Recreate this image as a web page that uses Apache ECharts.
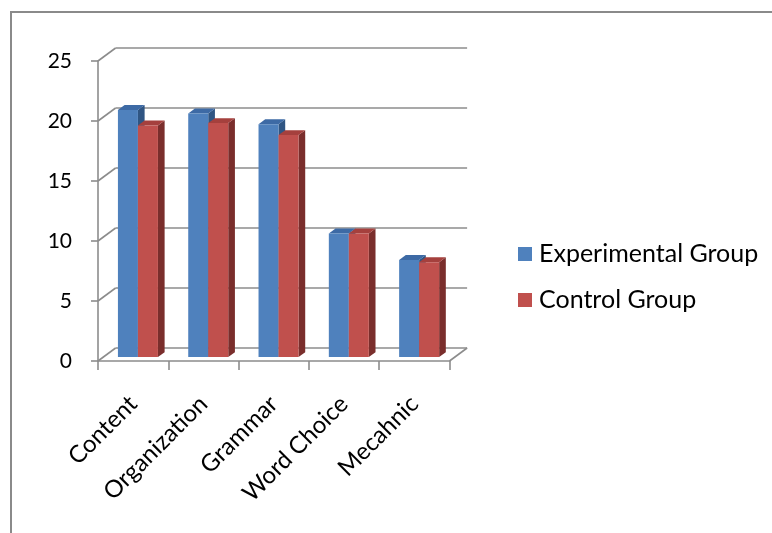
<!DOCTYPE html>
<html>
<head>
<meta charset="utf-8">
<script src="https://cdn.jsdelivr.net/npm/echarts@6/dist/echarts.min.js"></script>
<style>
  html, body { margin: 0; padding: 0; background: #ffffff; }
  #chart { width: 772px; height: 533px; }
</style>
</head>
<body>
<div id="chart"></div>
<script>
// Writing rubric scores per category, two groups
const categories = ['Content', 'Organization', 'Grammar', 'Word Choice', 'Mecahnic'];
const experimentalGroup = [20.6, 20.3, 19.4, 10.3, 8.1];
const controlGroup = [19.3, 19.5, 18.5, 10.3, 7.9];
const valueTicks = [0, 5, 10, 15, 20, 25];
const seriesNames = ['Experimental Group', 'Control Group'];

// Pseudo-3D projection: full depth of the plot box and where the bars sit in it
const DEPTH_X = 17.6;
const DEPTH_Y = -13;
const BAR_FRONT = 0.3;   // fraction of depth where bar front faces sit
const BAR_DEPTH = 0.38;  // bar thickness as a fraction of depth
const BAR_WIDTH = 20;
const GRID_COLOR = '#8c8c8c';
const FONT = 'Lato, "Liberation Sans", sans-serif';

const faces = [
  { front: '#4F81BD', top: '#3D6AA5', side: '#2F5583' },
  { front: '#C0504D', top: '#A5403D', side: '#7A2E2C' }
];

function barRenderer(slot) {
  const c = faces[slot];
  return function (params, api) {
    const cat = api.value(0);
    const top = api.coord([cat, api.value(1)]);
    const base = api.coord([cat, 0]);
    const sx = DEPTH_X * BAR_FRONT, sy = DEPTH_Y * BAR_FRONT;
    const dx = DEPTH_X * BAR_DEPTH, dy = DEPTH_Y * BAR_DEPTH;
    const x0 = top[0] - 20.5 + slot * BAR_WIDTH + sx;
    const x1 = x0 + BAR_WIDTH;
    const ty = top[1] + sy;
    const by = base[1] + sy;
    return {
      type: 'group',
      children: [
        {
          type: 'polygon',
          shape: { points: [[x1, ty], [x1 + dx, ty + dy], [x1 + dx, by + dy], [x1, by]] },
          style: { fill: c.side }
        },
        {
          type: 'polygon',
          shape: { points: [[x0, ty], [x1, ty], [x1 + dx, ty + dy], [x0 + dx, ty + dy]] },
          style: { fill: c.top }
        },
        {
          type: 'rect',
          shape: { x: x0, y: ty, width: BAR_WIDTH, height: by - ty },
          style: { fill: c.front }
        }
      ]
    };
  };
}

// Back wall gridlines plus the left-wall and floor diagonals
function wallRenderer(params, api) {
  const cs = params.coordSys;
  const v = api.value(1);
  const y = api.coord([0, v])[1];
  const left = cs.x, right = cs.x + cs.width;
  const lineStyle = { stroke: GRID_COLOR, lineWidth: 1.6, fill: null };
  const children = [
    { type: 'line', shape: { x1: left, y1: y, x2: left + DEPTH_X, y2: y + DEPTH_Y }, style: lineStyle },
    { type: 'line', shape: { x1: left + DEPTH_X, y1: y + DEPTH_Y, x2: right + DEPTH_X, y2: y + DEPTH_Y }, style: lineStyle }
  ];
  if (v === 0) {
    children.push({ type: 'line', shape: { x1: right, y1: y, x2: right + DEPTH_X, y2: y + DEPTH_Y }, style: lineStyle });
  }
  return { type: 'group', children: children };
}

const chart = echarts.init(document.getElementById('chart'), null, { renderer: 'canvas' });

chart.setOption({
  backgroundColor: '#ffffff',
  animation: false,
  textStyle: { fontFamily: FONT },
  grid: { left: 98, top: 61, right: 322.5, bottom: 172, containLabel: false },
  legend: {
    data: seriesNames,
    orient: 'vertical',
    left: 518,
    top: 240,
    padding: 0,
    icon: 'rect',
    itemWidth: 14,
    itemHeight: 14,
    itemGap: 18,
    textStyle: { fontFamily: FONT, fontSize: 25, color: '#000000', lineHeight: 28, padding: [0, 0, 0, 2] }
  },
  xAxis: {
    type: 'category',
    data: categories,
    boundaryGap: true,
    axisLine: { show: true, lineStyle: { color: GRID_COLOR, width: 1.6 } },
    axisTick: { show: true, length: 9, alignWithLabel: false, lineStyle: { color: GRID_COLOR, width: 1.6 } },
    axisLabel: {
      rotate: 45,
      interval: 0,
      margin: 39,
      fontFamily: FONT,
      fontSize: 24,
      color: '#000000'
    }
  },
  yAxis: {
    type: 'value',
    min: 0,
    max: 25,
    interval: 5,
    axisLine: { show: true, lineStyle: { color: GRID_COLOR, width: 1.6 } },
    axisTick: { show: true, length: 7, lineStyle: { color: GRID_COLOR, width: 1.6 } },
    splitLine: { show: false },
    axisLabel: { margin: 26, fontFamily: FONT, fontSize: 21, color: '#000000', padding: [5, 0, 0, 0] }
  },
  graphic: [
    {
      type: 'rect',
      shape: { x: 11, y: 12, width: 800, height: 600 },
      style: { fill: null, stroke: '#8a8a8a', lineWidth: 2 },
      silent: true,
      z: -10
    }
  ],
  series: [
    {
      name: 'wall',
      type: 'custom',
      renderItem: wallRenderer,
      data: valueTicks.map(v => [0, v]),
      z: 1,
      silent: true
    },
    {
      name: seriesNames[0],
      type: 'custom',
      renderItem: barRenderer(0),
      itemStyle: { color: faces[0].front },
      data: experimentalGroup.map((v, i) => [i, v]),
      z: 2
    },
    {
      name: seriesNames[1],
      type: 'custom',
      renderItem: barRenderer(1),
      itemStyle: { color: faces[1].front },
      data: controlGroup.map((v, i) => [i, v]),
      z: 3
    }
  ]
});
</script>
</body>
</html>
